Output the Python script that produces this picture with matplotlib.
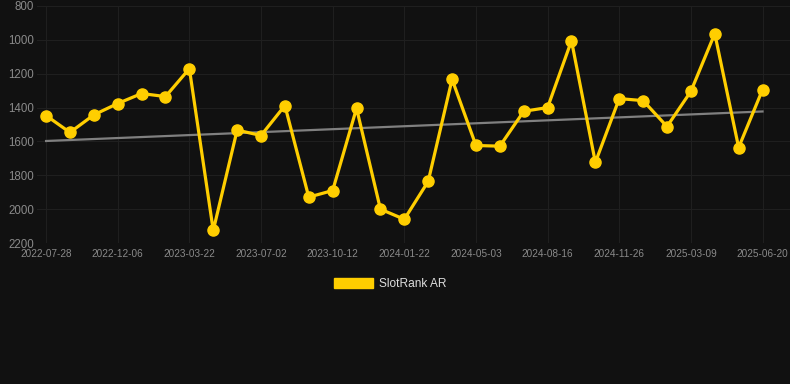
import numpy as np
import matplotlib.pyplot as plt

# rank values, one point per period (inverted axis)
rank = [1447, 1547, 1443, 1376, 1317, 1335, 1170, 2126, 1533, 1565,
        1388, 1929, 1890, 1404, 2000, 2060, 1836, 1233, 1624, 1628,
        1422, 1400, 1005, 1724, 1347, 1359, 1512, 1304, 963, 1636, 1294]
tick_labels = ['2022-07-28', '2022-12-06', '2023-03-22', '2023-07-02', '2023-10-12',
               '2024-01-22', '2024-05-03', '2024-08-16', '2024-11-26', '2025-03-09',
               '2025-06-20']
yticks = [800, 1000, 1200, 1400, 1600, 1800, 2000, 2200]

bg = '#111111'
gold = '#FFCE00'

x = np.arange(len(rank))
slope, icpt = np.polyfit(x, rank, 1)

plt.rcParams['font.family'] = ['Liberation Sans', 'DejaVu Sans']
fig = plt.figure(figsize=(7.9, 3.84), dpi=100, facecolor=bg)
ax = fig.add_axes([37/790, 1 - 243/384, 753/790, 237/384])
ax.set_facecolor(bg)

ax.plot(x, slope*x + icpt, color='#808080', lw=1.6, zorder=2)
ax.plot(x, rank, color=gold, lw=2.3, marker='o', ms=8, zorder=3, label='SlotRank AR')

ax.set_ylim(2200, 800)
ax.set_yticks(yticks)
ax.set_xlim(-0.38, 31.15)
ax.set_xticks(x[::3])
ax.set_xticklabels(tick_labels)

ax.grid(True, color='#1f1f1f', lw=0.8)
for s in ax.spines.values():
    s.set_visible(False)
ax.tick_params(axis='y', length=0, pad=2, labelsize=8.3, labelcolor='#8a8a8a')
ax.tick_params(axis='x', length=0, pad=4, labelsize=7.2, labelcolor='#8a8a8a')

handle = plt.Rectangle((0, 0), 1, 1, color=gold)
fig.legend([handle], ['SlotRank AR'], loc='center', bbox_to_anchor=(390/790, 1 - 284/384),
           frameon=False, fontsize=8.6, labelcolor='#dddddd',
           handlelength=3.3, handleheight=1.0, handletextpad=0.5)

fig.savefig('out.png', dpi=100, facecolor=bg)
